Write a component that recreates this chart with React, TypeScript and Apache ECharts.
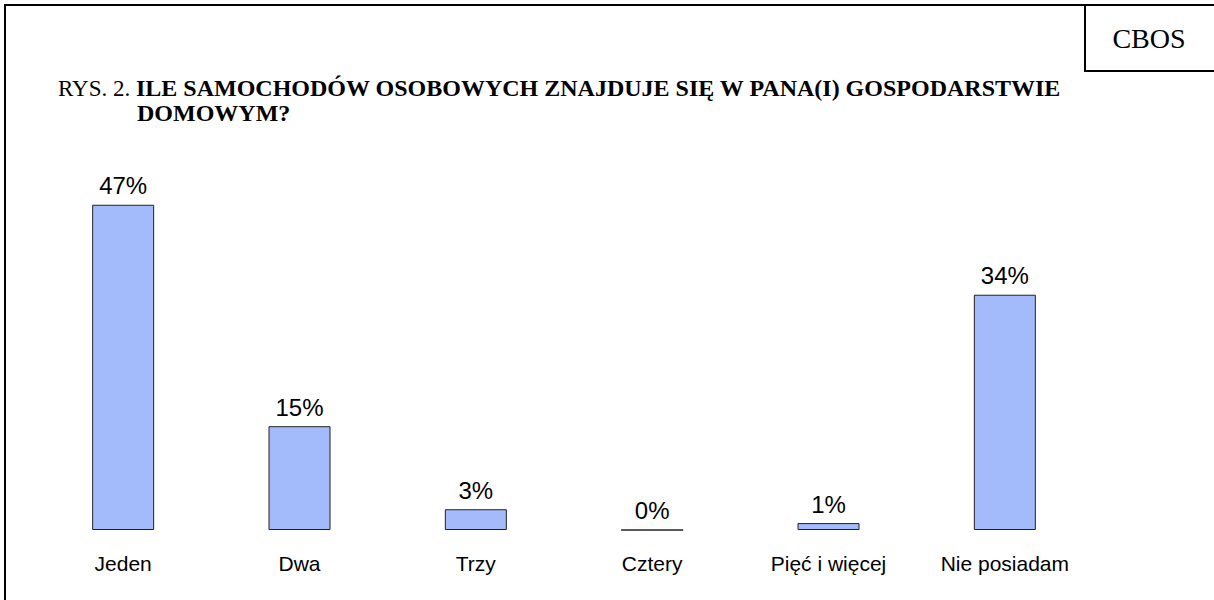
import React, { useEffect, useRef } from "react";
import * as echarts from "echarts";

const categories = ["Jeden", "Dwa", "Trzy", "Cztery", "Pięć i więcej", "Nie posiadam"];
const values = [47, 15, 3, 0, 1, 34];
const titlePrefix = "RYS. 2. ";
const titleLine1 = "ILE SAMOCHODÓW OSOBOWYCH ZNAJDUJE SIĘ W PANA(I) GOSPODARSTWIE";
const titleLine2 = "DOMOWYM?";
const badge = "CBOS";

export default function App() {
  const ref = useRef<HTMLDivElement>(null);
  useEffect(() => {
    const chart = echarts.init(ref.current!, null, { renderer: "svg" });
    const serif = "'Liberation Serif', 'Times New Roman', serif";
    const sans = "'Liberation Sans', Arial, sans-serif";
    chart.setOption({
      animation: false,
      backgroundColor: "#ffffff",
      grid: { left: 35, right: 121, top: 184, bottom: 70, containLabel: false },
      xAxis: {
        type: "category",
        data: categories,
        axisLine: { show: false },
        axisTick: { show: false },
        axisLabel: { margin: 23, fontFamily: sans, fontSize: 21, color: "#000" },
      },
      yAxis: {
        type: "value",
        min: 0,
        max: 50,
        show: false,
        splitLine: { show: false },
      },
      series: [
        {
          type: "bar",
          data: values,
          barWidth: 62,
          itemStyle: { color: "#a3bbfb", borderColor: "#222", borderWidth: 1 },
          label: {
            show: true,
            position: "top",
            distance: 7,
            formatter: "{c}%",
            fontFamily: sans,
            fontSize: 24,
            color: "#000",
          },
        },
      ],
      graphic: [
        { type: "line", shape: { x1: 4, y1: 5, x2: 1214, y2: 5 }, style: { stroke: "#000", lineWidth: 2 } },
        { type: "line", shape: { x1: 5, y1: 4, x2: 5, y2: 600 }, style: { stroke: "#000", lineWidth: 2 } },
        { type: "line", shape: { x1: 1085, y1: 4, x2: 1085, y2: 72 }, style: { stroke: "#000", lineWidth: 2 } },
        { type: "line", shape: { x1: 1084, y1: 71, x2: 1214, y2: 71 }, style: { stroke: "#000", lineWidth: 2 } },
        {
          type: "text",
          x: 1149,
          y: 38,
          style: { text: badge, font: `28px ${serif}`, fill: "#000", align: "center", verticalAlign: "middle" },
        },
        {
          type: "text",
          x: 58,
          y: 88,
          style: {
            text: `{r|${titlePrefix}}{b|${titleLine1}}`,
            verticalAlign: "middle",
            rich: {
              r: { fontFamily: serif, fontSize: 23, lineHeight: 23, fill: "#000", color: "#000" },
              b: { fontFamily: serif, fontSize: 24, lineHeight: 23, fontWeight: "bold", fill: "#000", color: "#000" },
            },
          },
        },
        {
          type: "text",
          x: 137,
          y: 113,
          style: { text: titleLine2, font: `bold 24px ${serif}`, lineHeight: 23, fill: "#000", verticalAlign: "middle" },
        },
      ],
    });
    return () => chart.dispose();
  }, []);
  return <div ref={ref} style={{ width: 1214, height: 600, position: "absolute", left: 0, top: 0 }} />;
}
